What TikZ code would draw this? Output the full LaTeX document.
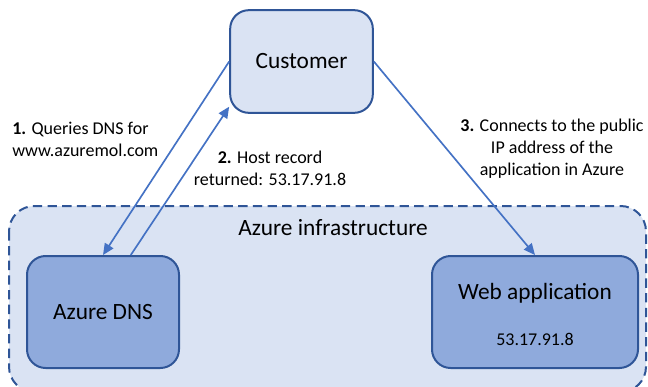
\documentclass[tikz,border=0pt]{standalone}
\usepackage{fontspec}
\setmainfont{Carlito}
\usepackage{tikz}
\usetikzlibrary{arrows.meta,positioning}

\definecolor{paleblue}{HTML}{DAE3F3}
\definecolor{midblue}{HTML}{8FAADC}
\definecolor{edgeblue}{HTML}{2F5597}
\definecolor{arrowblue}{HTML}{4472C4}

\begin{document}
\begin{tikzpicture}[
  x=0.75pt, y=-0.75pt,
  box/.style={draw=edgeblue, line width=1.5pt, rounded corners=14pt,
              fill=paleblue, font=\fontsize{17.5}{21}\selectfont},
  darkbox/.style={box, fill=midblue},
  zone/.style={draw=edgeblue, line width=1.5pt, dash pattern=on 7pt off 4pt,
               rounded corners=19pt, fill=paleblue},
  big/.style={inner sep=0pt, font=\fontsize{17.5}{21}\selectfont},
  lbl/.style={inner sep=0pt, align=center, font=\fontsize{13.5}{16.5}\selectfont},
  arr/.style={-{Triangle[length=8.5pt,width=7.5pt]}, draw=arrowblue, line width=1.25pt}
]
\useasboundingbox (0,0) rectangle (648,386);

% Azure side
\draw[zone] (9,206) rectangle (646,392);
\node[big] (infra) at (333,228) {Azure infrastructure};

\node[box, minimum width=107pt, minimum height=77pt] (customer) at (301.5,61.5) {Customer};
\node[darkbox, minimum width=114pt, minimum height=84pt] (dns) at (103,312) {Azure DNS};
\node[darkbox, minimum width=154.5pt, minimum height=84pt] (webapp) at (535,312) {};
\node[big] (webtitle) at (535,293) {Web application};
\node[lbl] (webip) at (535,339) {53.17.91.8};

% step labels
\node[lbl, align=left, anchor=west] (query) at (12,139)
  {\textbf{1.} Queries DNS for\\www.azuremol.com};
\node[lbl] (record) at (270,168)
  {\textbf{2.} Host record\\returned: 53.17.91.8};
\node[lbl] (connect) at (552,149)
  {\textbf{3.} Connects to the public\\IP address of the\\application in Azure};

\draw[arr] (customer.west) -- (dns.north);
\draw[arr] (dns.64)        -- (customer.212);
\draw[arr] (customer.east) -- (webapp.north);
\end{tikzpicture}
\end{document}
